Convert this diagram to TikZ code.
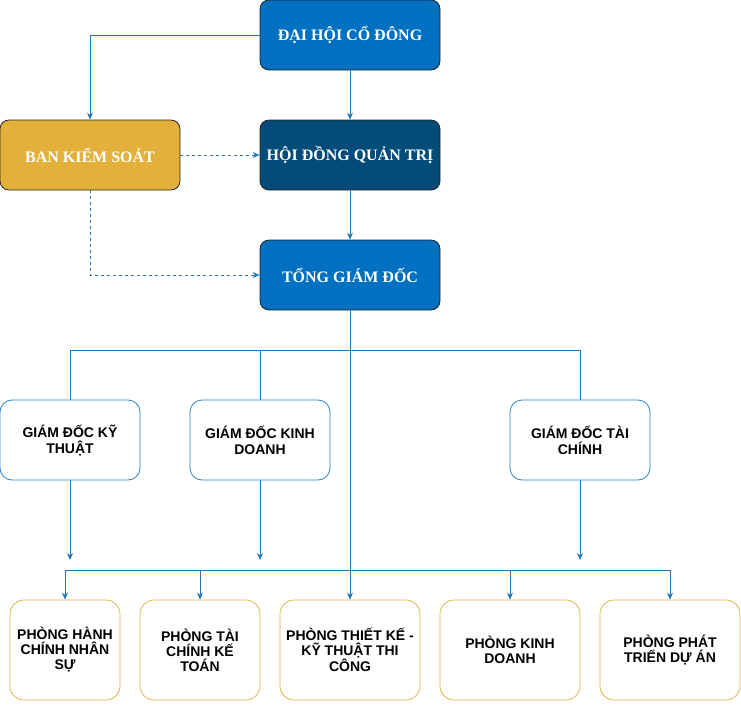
\documentclass[tikz,border=0pt]{standalone}
\usepackage{fontspec}
\setmainfont{Liberation Sans}
\newfontfamily\topfont{Liberation Serif}
\usetikzlibrary{arrows.meta}
\definecolor{cblue}{HTML}{0070C0}
\definecolor{cnavy}{HTML}{034B78}
\definecolor{cgold}{HTML}{E3B13B}
\definecolor{cline}{HTML}{1F78B8}
\definecolor{cbord}{HTML}{2F80C2}
\definecolor{cgoldb}{HTML}{E2B548}
\tikzset{
  topbox/.style={draw=black!85, line width=0.8pt, rounded corners=9pt, minimum width=180pt, minimum height=70pt, inner sep=0pt, text=white, font=\topfont\bfseries\fontsize{16}{18}\selectfont, align=center},
  gdbox/.style={draw=cbord, line width=0.8pt, fill=white, rounded corners=12pt, minimum width=140pt, minimum height=80pt, inner sep=0pt, font=\bfseries\fontsize{14}{16}\selectfont, align=center},
  pbox/.style={draw=cgoldb, line width=0.8pt, fill=white, rounded corners=14pt, minimum height=100pt, inner sep=0pt, font=\bfseries\fontsize{14}{15}\selectfont, align=center},
  conn/.style={draw=cline, line width=0.8pt},
  arr/.style={conn, -{Stealth[length=7pt,width=6pt]}},
  darr/.style={arr, dashed, dash pattern=on 3pt off 3pt},
}
\begin{document}
\begin{tikzpicture}[x=1pt,y=-1pt]
\useasboundingbox (0,0) rectangle (741,709);
\node[topbox, fill=cblue] (dh) at (350,35) {ĐẠI HỘI CỔ ĐÔNG};
\node[topbox, fill=cnavy] (hd) at (350,155) {HỘI ĐỒNG QUẢN TRỊ};
\node[topbox, fill=cgold] (bks) at (90,155) {BAN KIỂM SOÁT};
\node[topbox, fill=cblue] (tgd) at (350,275) {TỔNG GIÁM ĐỐC};

\node[gdbox] (gkt) at (70,440) {GIÁM ĐỐC KỸ\\THUẬT};
\node[gdbox] (gkd) at (260,440) {GIÁM ĐỐC KINH\\DOANH};
\node[gdbox] (gtc) at (580,440) {GIÁM ĐỐC TÀI\\CHÍNH};

\node[pbox, minimum width=110pt] (p1) at (65,650) {PHÒNG HÀNH\\CHÍNH NHÂN\\SỰ};
\node[pbox, minimum width=120pt] (p2) at (200,650) {PHÒNG TÀI\\CHÍNH KẾ\\TOÁN};
\node[pbox, minimum width=140pt] (p3) at (350,650) {PHÒNG THIẾT KẾ -\\KỸ THUẬT THI\\CÔNG};
\node[pbox, minimum width=140pt] (p4) at (510,650) {PHÒNG KINH\\DOANH};
\node[pbox, minimum width=140pt] (p5) at (670,650) {PHÒNG PHÁT\\TRIỂN DỰ ÁN};

% top connectors
\draw[arr] (dh.west) -| (bks.north);
\draw[arr] (dh.south) -- (hd.north);
\draw[darr] (bks.east) -- (hd.west);
\draw[darr] (bks.south) |- (tgd.west);
\draw[arr] (hd.south) -- (tgd.north);

% middle bus
\coordinate (busL) at (70,350);
\coordinate (busR) at (580,350);
\draw[conn] (gkt.north) -- (busL) -- (busR) -- (gtc.north);
\coordinate (busK) at (260,350);
\draw[conn] (busK) -- (gkd.north);
\draw[arr] (tgd.south) -- (p3.north);

% director arrows (free ends)
\coordinate (e1) at (70,560);
\coordinate (e2) at (260,560);
\coordinate (e3) at (580,560);
\draw[arr] (gkt.south) -- (e1);
\draw[arr] (gkd.south) -- (e2);
\draw[arr] (gtc.south) -- (e3);

% bottom bus
\coordinate (q1) at (65,570);
\coordinate (q2) at (200,570);
\coordinate (q4) at (510,570);
\coordinate (q5) at (670,570);
\draw[conn] (q1) -- (q5);
\draw[arr] (q1) -- (p1.north);
\draw[arr] (q2) -- (p2.north);
\draw[arr] (q4) -- (p4.north);
\draw[arr] (q5) -- (p5.north);
\end{tikzpicture}
\end{document}
